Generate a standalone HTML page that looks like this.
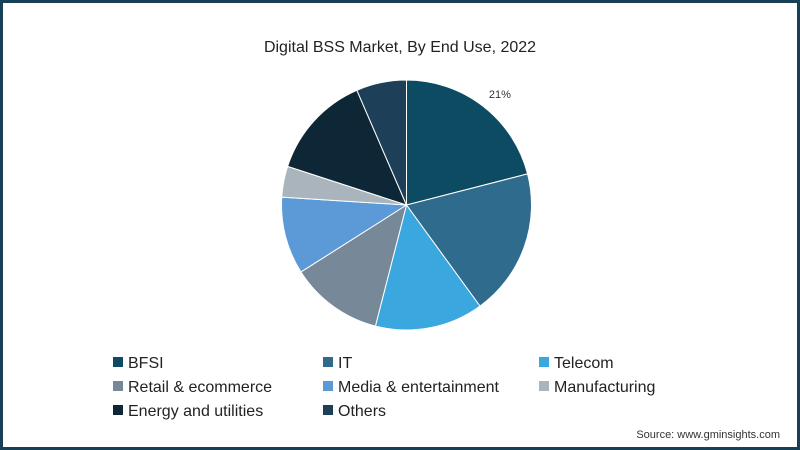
<!DOCTYPE html>
<html><head><meta charset="utf-8"><style>
body{margin:0;width:800px;height:450px;overflow:hidden;background:#fff;font-family:"Liberation Sans",sans-serif;}
#frame{position:absolute;left:0;top:0;width:794px;height:444px;border:3px solid #173f55;}
</style></head><body>
<div id="frame"></div>
<svg id="chart" width="800" height="450" style="position:absolute;left:0;top:0">
<text x="400" y="52" text-anchor="middle" font-size="16" fill="#222">Digital BSS Market, By End Use, 2022</text>
<g id="slices"></g><g id="legend"></g>
<text x="780" y="438" text-anchor="end" font-size="11" fill="#333">Source: www.gminsights.com</text>
</svg>
<script>
const categories=["BFSI","IT","Telecom","Retail & ecommerce","Media & entertainment","Manufacturing","Energy and utilities","Others"];
const values=[21,19,14,12,10,4,13.5,6.5];
const colors=["#0d4b63","#2e6b8c","#3aa8de","#778899","#5b9ad6","#a9b4bd","#0d2737","#1e3f58"];
const NS="http://www.w3.org/2000/svg";
const cx=406.5,cy=205,r=125;
const total=values.reduce((a,b)=>a+b,0);
const g=document.getElementById('slices');
let acc=0;
function pt(f){const a=f*2*Math.PI;return [cx+r*Math.sin(a),cy-r*Math.cos(a)];}
values.forEach((v,i)=>{
 const f0=acc/total,f1=(acc+v)/total;acc+=v;
 const [x0,y0]=pt(f0),[x1,y1]=pt(f1);
 const p=document.createElementNS(NS,'path');
 p.setAttribute('d',`M${cx},${cy}L${x0},${y0}A${r},${r} 0 ${f1-f0>0.5?1:0} 1 ${x1},${y1}Z`);
 p.setAttribute('fill',colors[i]);p.setAttribute('stroke','#fff');p.setAttribute('stroke-width','1');
 
 
 g.appendChild(p);
 if(i===0){
  const a=((f0+f1)/2)*2*Math.PI+0.04;
  const t=document.createElementNS(NS,'text');
  t.setAttribute('x',cx+(r+20)*Math.sin(a));t.setAttribute('y',cy-(r+20)*Math.cos(a)+4);
  t.setAttribute('font-size','11');t.setAttribute('fill','#333');t.setAttribute('text-anchor','middle');
  t.textContent=v+'%';
  
  
  g.appendChild(t);
 }
});
const lg=document.getElementById('legend');
const colX=[113,323,539],rowY=[362,386,410];
categories.forEach((c,i)=>{
 const x=colX[i%3],y=rowY[Math.floor(i/3)];
 const e=document.createElementNS(NS,'g');
 
 
 const s=document.createElementNS(NS,'rect');
 s.setAttribute('x',x);s.setAttribute('y',y-5);s.setAttribute('width',10);s.setAttribute('height',10);s.setAttribute('fill',colors[i]);
 const t=document.createElementNS(NS,'text');
 t.setAttribute('x',x+15);t.setAttribute('y',y+6);t.setAttribute('font-size','16');t.setAttribute('fill','#222');
 t.textContent=c;
 e.appendChild(s);e.appendChild(t);lg.appendChild(e);
});
</script>
</body></html>
